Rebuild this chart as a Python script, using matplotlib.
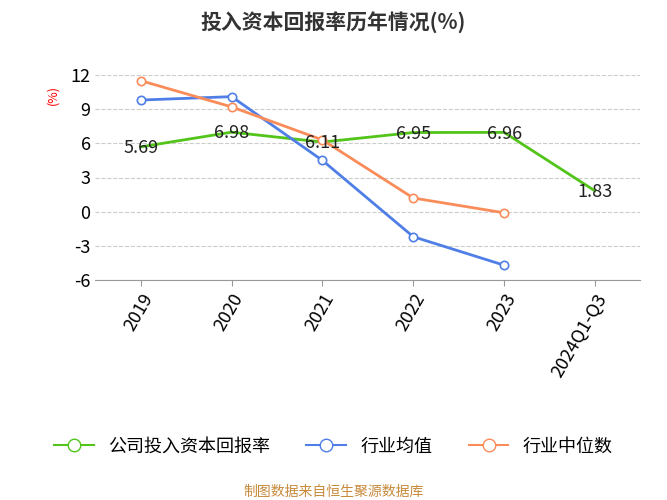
import matplotlib.pyplot as plt
from matplotlib.lines import Line2D

plt.rcParams['font.family'] = 'Noto Sans CJK SC'
plt.rcParams['axes.unicode_minus'] = False

years = ['2019', '2020', '2021', '2022', '2023', '2024Q1-Q3']
company = [5.69, 6.98, 6.11, 6.95, 6.96, 1.83]
ind_avg = [9.8, 10.1, 4.5, -2.2, -4.7]
ind_med = [11.5, 9.2, 6.3, 1.2, -0.1]

green = '#52c41a'
blue = '#4f7fe6'
orange = '#fa8c5a'

fig = plt.figure(figsize=(6.67, 5), dpi=100)
ax = fig.add_axes([0.143, 0.44, 0.817, 0.41])

x = list(range(len(years)))
ax.plot(x, company, color=green, lw=2, zorder=3)
ax.plot(x[:5], ind_avg, color=blue, lw=2, marker='o', ms=6, mfc='white', mew=1.2, zorder=3)
ax.plot(x[:5], ind_med, color=orange, lw=2, marker='o', ms=6, mfc='white', mew=1.2, zorder=3)
for xi, v in zip(x, company):
    ax.text(xi, v - 0.1, f'{v:.2f}', ha='center', va='center', fontsize=13, color='#222222', zorder=4)

ax.set_xlim(-0.5, 5.5)
ax.set_ylim(-6, 12)
ax.set_yticks(range(-6, 13, 3))
ax.set_xticks(x)
ax.set_xticklabels(years, rotation=60, ha='right', rotation_mode='anchor', fontsize=13)
ax.tick_params(axis='y', labelsize=13, length=0)
ax.tick_params(axis='x', length=4, color='#999999')
ax.grid(axis='y', linestyle='--', color='#cccccc')
for s in ['top', 'right', 'left']:
    ax.spines[s].set_visible(False)
ax.spines['bottom'].set_color('#999999')
ax.text(-0.09, 0.95, '(%)', transform=ax.transAxes, color='red', fontsize=9, rotation=90, va='top')

fig.text(0.5, 0.955, '投入资本回报率历年情况(%)', ha='center', va='center', fontsize=15, fontweight='bold', color='#333333')

handles = [Line2D([], [], color=c, lw=1.5, marker='o', ms=9, mfc='white') for c in (green, blue, orange)]
fig.legend(handles, ['公司投入资本回报率', '行业均值', '行业中位数'], loc='center', bbox_to_anchor=(0.5, 0.107),
           ncol=3, frameon=False, fontsize=13, handlelength=2.2, columnspacing=2)
fig.text(0.5, 0.017, '制图数据来自恒生聚源数据库', ha='center', va='center', fontsize=10, color='#c88a3c')

fig.savefig('out.png', dpi=100)
